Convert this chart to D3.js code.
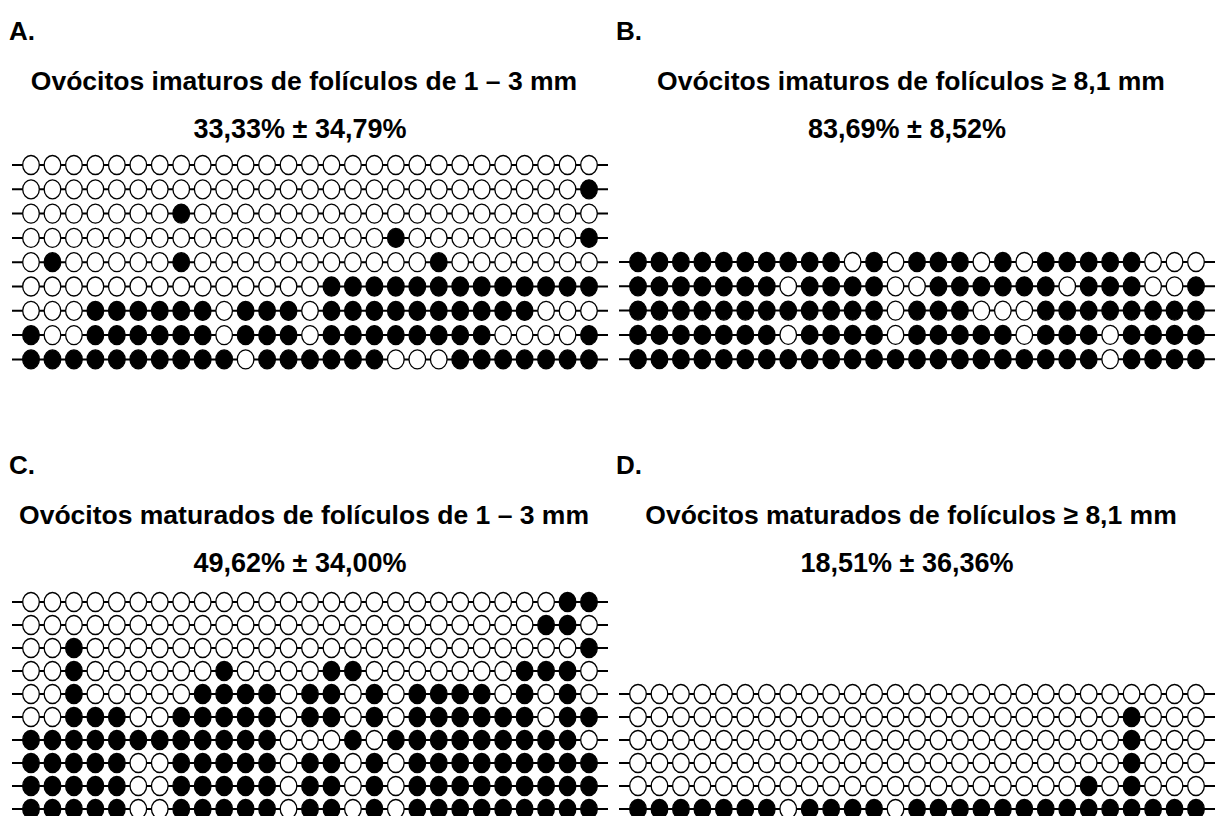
<!DOCTYPE html>
<html>
<head>
<meta charset="utf-8">
<script src="https://cdn.jsdelivr.net/npm/d3@7"></script>
<style>
    body { margin: 0; background: #fff; }
    svg { display: block; }
    .panel-letter, .panel-title, .panel-stat {
        font-family: "Liberation Sans", Arial, sans-serif;
        font-weight: bold;
        fill: #000;
    }
</style>
</head>
<body>
<svg id="chart" width="1221" height="816"></svg>
<script>

//  1 = filled circle, 0 = open circle ; one string per clone, 27 CpG sites each

var rows_a = [
    '000000000000000000000000000',
    '000000000000000000000000001',
    '000000010000000000000000000',
    '000000000000000001000000001',
    '010000010000000000010000000',
    '000000000000001111111111111',
    '000111111011101111111111000',
    '100111111011101111111100001',
    '111111111101111110001111111'
];

var rows_b = [
    '111111111101011101011111000',
    '111111101111001111110111001',
    '111111111111011100011111111',
    '111111101111011111011101111',
    '111111111111111111111101111'
];

var rows_c = [
    '000000000000000000000000011',
    '000000000000000000000000110',
    '001000000000000000000000001',
    '001000000100001100000001110',
    '001000001111011010111101010',
    '001110011111011010111111011',
    '111111111111000101111111110',
    '111110011111011010111111111',
    '111110011111011010111111111',
    '111110011111011010111111111'
];

var rows_d = [
    '000000000000000000000000000',
    '000000000000000000000001000',
    '000000000000000000000001000',
    '000000000000000000000001000',
    '000000000000000000000101000',
    '111111101111011111111111111'
];

var letters = ['A.', 'B.', 'C.', 'D.'];

var titles = [
    'Ovócitos imaturos de folículos de 1 – 3 mm',
    'Ovócitos imaturos de folículos ≥ 8,1 mm',
    'Ovócitos maturados de folículos de 1 – 3 mm',
    'Ovócitos maturados de folículos ≥ 8,1 mm'
];

var stats = [
    '33,33% ± 34,79%',
    '83,69% ± 8,52%',
    '49,62% ± 34,00%',
    '18,51% ± 36,36%'
];

var n_sites = 27;

//  layout of each panel: left/right column, first row offset and row step
var panels = [
    { 'rows' : rows_a, 'left' : 0,   'top' : 0,   'row0' : 165, 'step' : 24.3 },
    { 'rows' : rows_b, 'left' : 607, 'top' : 0,   'row0' : 262, 'step' : 24.3 },
    { 'rows' : rows_c, 'left' : 0,   'top' : 434, 'row0' : 602, 'step' : 23 },
    { 'rows' : rows_d, 'left' : 607, 'top' : 434, 'row0' : 694, 'step' : 23 }
];

var svg = d3.select('#chart');

for (var i = 0; i < panels.length; i++) {
    drawPanel(svg, panels[i], letters[i], titles[i], stats[i]);
}


function drawPanel(svg, p, letter, title, stat) {

    var g = svg.append('g')
        .attr('class', 'panel');

    var x = d3.scalePoint()
        .domain(d3.range(n_sites))
        .range([p.left + 31, p.left + 589]);

    var y = d3.scalePoint()
        .domain(d3.range(p.rows.length))
        .range([p.row0, p.row0 + p.step * (p.rows.length - 1)]);

    g.append('text')
        .attr('class', 'panel-letter')
        .attr('x', p.left + 9)
        .attr('y', p.top + 40)
        .attr('font-size', 26)
        .text(letter);

    g.append('text')
        .attr('class', 'panel-title')
        .attr('x', p.left + 304)
        .attr('y', p.top + 90)
        .attr('text-anchor', 'middle')
        .attr('font-size', 26.5)
        .text(title);

    g.append('text')
        .attr('class', 'panel-stat')
        .attr('x', p.left + 300)
        .attr('y', p.top + 138)
        .attr('text-anchor', 'middle')
        .attr('font-size', 27)
        .text(stat);

    var row = g.selectAll('.clone')
        .data(p.rows)
        .enter()
        .append('g')
        .attr('class', 'clone')
        .attr('transform', function(d, j) { return 'translate(0,' + y(j) + ')'; });

    row.append('line')
        .attr('x1', p.left + 12)
        .attr('x2', p.left + 608)
        .attr('stroke', '#000')
        .attr('stroke-width', 2);

    row.selectAll('ellipse')
        .data(function(d) { return d.split('').map(Number); })
        .enter()
        .append('ellipse')
        .attr('cx', function(d, k) { return x(k); })
        .attr('cy', 0)
        .attr('rx', 8.3)
        .attr('ry', 9.5)
        .attr('fill', function(d) { return d ? '#000' : '#fff'; })
        .attr('stroke', '#000')
        .attr('stroke-width', 1.3);
}

</script>
</body>
</html>
